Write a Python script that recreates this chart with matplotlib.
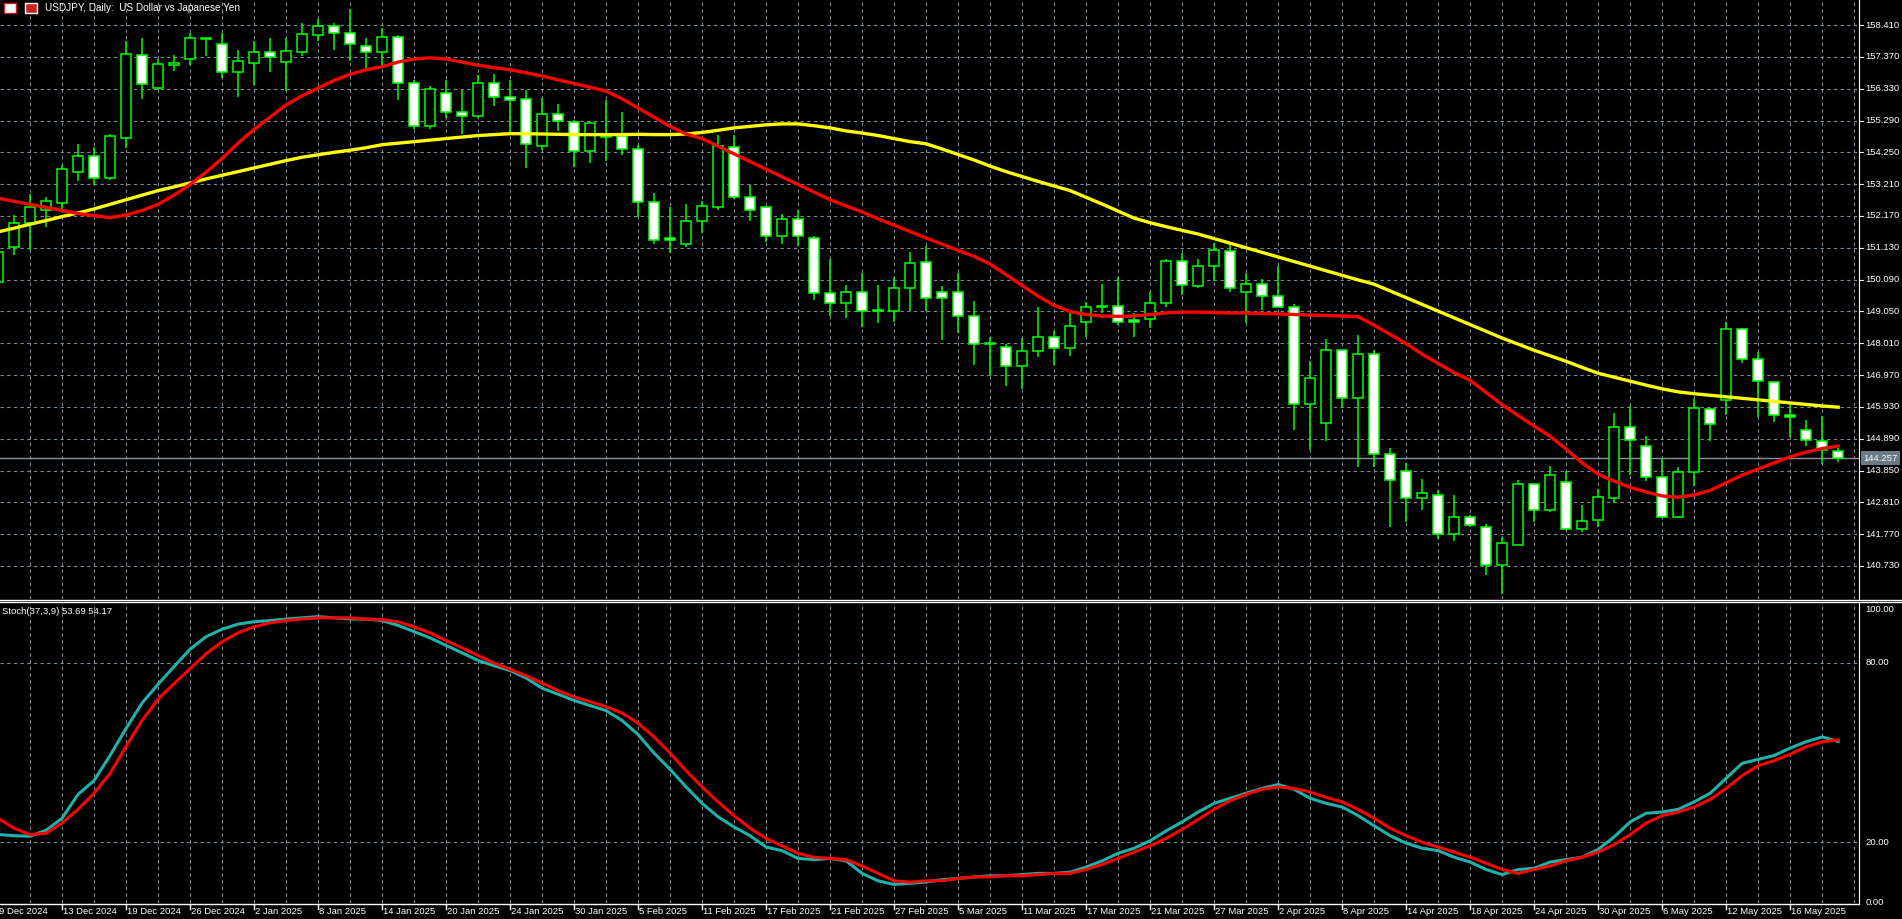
import matplotlib
matplotlib.use("Agg")
import matplotlib.pyplot as plt
import pandas as pd
import numpy as np

plt.rcParams['font.family'] = ['Liberation Sans', 'DejaVu Sans']

# ---- data ----
days = [d for d in pd.bdate_range("2024-12-09", "2025-05-21")
        if d.strftime("%m-%d") not in ("12-25", "01-01")]
date_labels = [f"{d.day} {d.strftime('%b %Y')}" for d in days]

ohlc = [
    (150.0, 151.2, 149.7, 151.0), (151.17, 152.2, 150.9, 151.95), (151.95, 152.9, 151.07, 152.47),
    (152.35, 152.8, 151.8, 152.67), (152.6, 153.85, 152.4, 153.72), (153.62, 154.53, 153.32, 154.14),
    (154.14, 154.43, 153.19, 153.42), (153.42, 154.85, 153.35, 154.79), (154.73, 157.9, 154.4, 157.47),
    (157.43, 157.99, 156.0, 156.49), (156.36, 157.3, 156.3, 157.14), (157.1, 157.43, 156.9, 157.18),
    (157.3, 158.16, 157.1, 158.0), (157.98, 158.0, 157.4, 157.95), (157.79, 158.16, 156.68, 156.88),
    (156.88, 157.6, 156.06, 157.23), (157.17, 157.9, 156.45, 157.53), (157.53, 158.0, 156.88, 157.37),
    (157.2, 158.0, 156.26, 157.56), (157.53, 158.48, 157.4, 158.12), (158.09, 158.6, 157.89, 158.38),
    (158.38, 158.48, 157.6, 158.15), (158.15, 158.94, 157.23, 157.79), (157.73, 158.0, 156.95, 157.53),
    (157.53, 158.3, 157.1, 158.02), (158.02, 158.1, 155.97, 156.52), (156.52, 156.6, 155.0, 155.12),
    (155.12, 156.42, 155.02, 156.33), (156.2, 156.62, 155.38, 155.58), (155.58, 156.29, 154.86, 155.45),
    (155.45, 156.78, 155.38, 156.52), (156.52, 156.81, 155.77, 156.06), (156.06, 156.62, 154.89, 155.97),
    (156.0, 156.29, 153.75, 154.53), (154.47, 156.03, 154.34, 155.51), (155.51, 155.84, 154.96, 155.28),
    (155.25, 155.3, 153.78, 154.3), (154.3, 155.25, 153.91, 155.22), (154.75, 155.97, 153.98, 154.8),
    (154.79, 155.58, 154.17, 154.37), (154.37, 154.5, 152.15, 152.64), (152.64, 152.93, 151.24, 151.37),
    (151.46, 152.47, 150.97, 151.37), (151.27, 152.57, 151.17, 152.02), (152.02, 152.67, 151.63, 152.5),
    (152.47, 154.83, 152.38, 154.47), (154.43, 154.83, 152.73, 152.8), (152.8, 153.19, 152.02, 152.38),
    (152.47, 152.5, 151.33, 151.53), (151.53, 152.25, 151.24, 152.08), (152.08, 152.35, 151.2, 151.5),
    (151.46, 151.5, 149.44, 149.64), (149.64, 150.78, 148.89, 149.34), (149.34, 149.9, 148.85, 149.7),
    (149.7, 150.32, 148.53, 149.05), (149.05, 149.93, 148.66, 149.1), (149.08, 150.16, 148.7, 149.83),
    (149.83, 151.0, 149.08, 150.62), (150.68, 151.2, 149.08, 149.5), (149.7, 149.87, 148.1, 149.5),
    (149.7, 150.32, 148.36, 148.89), (148.89, 149.38, 147.29, 148.0), (147.98, 148.2, 146.93, 148.02),
    (147.9, 148.0, 146.6, 147.26), (147.26, 148.17, 146.5, 147.75), (147.75, 149.2, 147.55, 148.23),
    (148.23, 148.4, 147.3, 147.84), (147.84, 149.05, 147.6, 148.59), (148.72, 149.35, 148.2, 149.2),
    (149.18, 149.96, 149.0, 149.22), (149.24, 150.19, 148.6, 148.69), (148.76, 149.0, 148.2, 148.69),
    (148.79, 149.7, 148.5, 149.34), (149.34, 150.75, 149.2, 150.71), (150.71, 150.97, 149.6, 149.9),
    (149.87, 150.75, 149.8, 150.55), (150.55, 151.3, 150.06, 151.07), (151.04, 151.24, 149.7, 149.83),
    (149.7, 150.32, 148.66, 149.96), (149.96, 150.1, 149.1, 149.57), (149.57, 150.52, 149.18, 149.18),
    (149.18, 149.3, 145.17, 146.02), (146.02, 147.42, 144.51, 146.86), (145.4, 148.14, 144.81, 147.78),
    (147.78, 147.8, 145.9, 146.21), (146.21, 148.27, 143.96, 147.65), (147.65, 147.8, 143.96, 144.38),
    (144.38, 144.58, 142.0, 143.54), (143.83, 144.1, 142.17, 142.95), (142.95, 143.57, 142.56, 143.11),
    (143.05, 143.2, 141.6, 141.77), (141.77, 143.05, 141.55, 142.33), (142.33, 142.4, 142.0, 142.07),
    (142.0, 142.1, 140.44, 140.76), (140.76, 141.68, 139.82, 141.48), (141.42, 143.54, 141.4, 143.4),
    (143.4, 143.45, 142.17, 142.56), (142.56, 143.99, 142.5, 143.7), (143.47, 143.83, 141.9, 141.94),
    (141.94, 142.72, 141.85, 142.2), (142.23, 143.24, 142.0, 142.98), (142.95, 145.72, 142.8, 145.27),
    (145.27, 145.95, 143.7, 144.84), (144.64, 144.97, 143.5, 143.63), (143.63, 144.25, 142.3, 142.33),
    (142.33, 143.95, 142.3, 143.8), (143.8, 146.18, 143.34, 145.89), (145.85, 145.9, 144.81, 145.36),
    (146.15, 148.69, 145.66, 148.46), (148.46, 148.5, 147.35, 147.48), (147.48, 147.71, 145.59, 146.77),
    (146.73, 146.76, 145.43, 145.66), (145.65, 146.02, 144.94, 145.6), (145.17, 145.49, 144.65, 144.84),
    (144.81, 145.62, 144.06, 144.51), (144.48, 144.58, 144.12, 144.257),
]
opens = [r[0] for r in ohlc]
highs = [r[1] for r in ohlc]
lows = [r[2] for r in ohlc]
closes = [r[3] for r in ohlc]

ma_red = [
    152.75, 152.65, 152.55, 152.45, 152.35, 152.25, 152.18, 152.12, 152.2, 152.35,
    152.55, 152.85, 153.2, 153.6, 154.05, 154.55, 155.0, 155.4, 155.8, 156.1,
    156.35, 156.6, 156.8, 156.95, 157.05, 157.2, 157.3, 157.34, 157.3, 157.2,
    157.1, 157.02, 156.95, 156.85, 156.75, 156.62, 156.5, 156.38, 156.25, 156.0,
    155.7, 155.4, 155.1, 154.85, 154.7, 154.45, 154.2, 153.95, 153.7, 153.45,
    153.2, 152.95, 152.7, 152.5, 152.3, 152.08, 151.87, 151.66, 151.45, 151.25,
    151.05, 150.85, 150.6, 150.25, 149.9, 149.55, 149.25, 149.05, 148.95, 148.9,
    148.89, 148.9, 148.95, 149.0, 149.03, 149.03, 149.02, 149.0, 149.0, 148.98,
    148.97, 148.95, 148.93, 148.92, 148.9, 148.88, 148.6, 148.3, 148.0, 147.65,
    147.35, 147.05, 146.8, 146.4, 146.0, 145.65, 145.3, 144.97, 144.55, 144.1,
    143.73, 143.5, 143.3, 143.15, 143.02, 142.98, 143.05, 143.2, 143.45, 143.7,
    143.9, 144.1, 144.3, 144.45, 144.57, 144.65,
]
ma_yellow = [
    151.65, 151.77, 151.9, 152.02, 152.15, 152.27, 152.4, 152.55, 152.7, 152.85,
    153.0, 153.12, 153.25, 153.38, 153.5, 153.62, 153.74, 153.86, 153.98, 154.09,
    154.17, 154.25, 154.32, 154.4, 154.5, 154.55, 154.6, 154.65, 154.7, 154.75,
    154.8, 154.83, 154.86, 154.86, 154.85, 154.84, 154.83, 154.83, 154.83, 154.83,
    154.84, 154.83, 154.83, 154.85, 154.9, 154.97, 155.05, 155.1, 155.15, 155.18,
    155.18, 155.12, 155.05, 154.95, 154.88, 154.8, 154.7, 154.6, 154.53, 154.36,
    154.18, 154.0, 153.8, 153.62, 153.46, 153.3, 153.15, 153.0, 152.78, 152.56,
    152.33, 152.1, 151.95, 151.82, 151.7, 151.58, 151.43, 151.28, 151.13, 150.98,
    150.83, 150.68, 150.53, 150.38, 150.23, 150.08, 149.94, 149.72, 149.5, 149.28,
    149.06, 148.84, 148.62, 148.4, 148.18, 147.98, 147.78, 147.6, 147.42, 147.22,
    147.03, 146.9, 146.77, 146.64, 146.52, 146.42, 146.36, 146.31, 146.26, 146.21,
    146.16, 146.11, 146.06, 146.01, 145.96, 145.92,
]
stoch_main = [
    22.6, 22.2, 22.0, 24.0, 28.0, 36.0, 40.6, 49.0, 58.0, 66.5,
    72.8, 78.7, 84.5, 88.7, 91.2, 92.9, 93.7, 94.1, 94.6, 95.0,
    95.4, 95.0, 94.6, 94.6, 94.1, 92.5, 90.4, 88.3, 85.8, 83.3,
    80.8, 79.0, 77.4, 74.9, 71.5, 69.5, 67.4, 65.7, 64.0, 60.7,
    56.0, 49.8, 44.4, 38.5, 33.0, 28.5, 25.1, 22.2, 18.4, 17.2,
    14.6, 14.2, 14.6, 13.8, 9.6, 7.1, 5.9, 6.3, 6.7, 7.5,
    7.9, 8.4, 8.8, 8.8, 9.2, 9.6, 9.6, 10.0, 11.7, 13.8,
    16.3, 18.0, 20.5, 23.8, 26.8, 30.1, 33.0, 34.7, 36.4, 38.0,
    39.3, 37.7, 34.7, 33.0, 31.8, 28.9, 25.5, 22.2, 19.7, 18.0,
    17.2, 15.0, 13.4, 10.9, 9.2, 10.9, 11.3, 13.4, 14.2, 15.0,
    17.6, 21.8, 26.8, 29.7, 30.1, 31.0, 33.5, 36.4, 41.4, 46.4,
    47.7, 49.0, 51.5, 53.6, 55.2, 53.69,
]
stoch_signal = [
    28.0, 24.7, 22.6, 23.0, 26.4, 31.0, 36.4, 43.0, 52.0, 60.7,
    67.8, 73.0, 78.0, 83.0, 87.0, 90.0, 92.0, 93.3, 94.1, 94.6,
    95.0, 95.0, 95.0, 94.6, 94.4, 93.7, 92.0, 90.0, 87.4, 85.0,
    82.4, 79.9, 77.8, 75.7, 73.2, 70.7, 68.6, 67.0, 65.3, 63.2,
    59.8, 55.2, 49.8, 43.9, 38.5, 33.5, 28.9, 24.7, 21.3, 18.8,
    16.3, 15.0, 14.6, 14.2, 12.1, 9.6, 7.1, 6.7, 7.1, 7.1,
    7.9, 8.4, 8.4, 8.8, 8.8, 9.2, 9.6, 9.6, 10.9, 12.6,
    14.6, 16.7, 18.8, 21.3, 24.3, 27.6, 31.0, 33.9, 36.0, 37.7,
    38.5, 38.0, 36.8, 35.0, 33.5, 31.0, 28.0, 24.7, 22.2, 20.0,
    18.4, 16.7, 15.0, 13.0, 10.9, 9.6, 10.9, 12.1, 13.8, 15.0,
    16.7, 19.2, 22.6, 26.4, 28.9, 30.1, 31.8, 34.3, 38.0, 42.3,
    45.6, 47.3, 49.4, 51.9, 53.6, 54.17,
]
price_ticks = [140.73, 141.77, 142.81, 143.85, 144.89, 145.93, 146.97, 148.01,
               149.05, 150.09, 151.13, 152.17, 153.21, 154.25, 155.29, 156.33,
               157.37, 158.41]
stoch_ticks = [0, 20, 80, 100]
last_price = 144.257

# ---- figure ----
W, H = 1902, 919
fig = plt.figure(figsize=(W / 100, H / 100), dpi=100, facecolor="black")

def px_axes(x0, y0, x1, y1):
    return fig.add_axes([x0 / W, 1 - y1 / H, (x1 - x0) / W, (y1 - y0) / H])

ax = px_axes(0, 0, 1859, 599)
ax2 = px_axes(0, 602, 1859, 903)
grid_col = "#7d8a98"
n = len(closes)
xs = np.arange(n)
for a in (ax, ax2):
    a.set_facecolor("black")
    a.set_xlim(0.125, 116.3)
    for s in a.spines.values():
        s.set_visible(False)
    a.tick_params(left=False, bottom=False, labelleft=False, labelbottom=False)
    for gx in range(0, n + 2, 2):
        a.axvline(gx, color=grid_col, lw=0.8, ls=(0, (3, 3)), zorder=0)
    a.spines["right"].set_visible(True)
    a.spines["right"].set_color("white")

ymin, ymax = 139.65, 159.23
ax.set_ylim(ymin, ymax)
ax2.set_ylim(-0.3, 100.3)
for p in price_ticks:
    ax.axhline(p, color=grid_col, lw=0.8, ls=(0, (3, 3)), zorder=0)
for s in (20, 80):
    ax2.axhline(s, color=grid_col, lw=0.8, ls=(0, (3, 3)), zorder=0)

# candles
o = np.array(opens); c = np.array(closes)
bull = c >= o
bottom = np.minimum(o, c)
height = np.maximum(np.abs(c - o), 0.03)
ax.vlines(xs, lows, highs, color="#00ff00", lw=1.1, zorder=2)
ax.bar(xs, height, bottom=bottom, width=0.62,
       color=np.where(bull, "black", "white"), edgecolor="#00ff00", lw=1.1, zorder=3)

ax.plot(xs, ma_yellow, color="#ffff00", lw=2.4, zorder=4)
ax.plot(xs, ma_red, color="#ff0000", lw=2.4, zorder=4)
ax.axhline(last_price, color="#8a939c", lw=1, zorder=1)

ax2.plot(xs, stoch_main, color="#20b2aa", lw=2.2)
ax2.plot(xs, stoch_signal, color="#ff0000", lw=2.2)

# right axis labels
fs = 6.8
for p in price_ticks:
    yf = (p - ymin) / (ymax - ymin)
    ax.text(1.0035, yf, f"{p:.3f}", transform=ax.transAxes,
            color="white", fontsize=fs, va="center", ha="left")
    ax.plot([1.0, 1.002], [yf, yf], transform=ax.transAxes,
            color="white", lw=0.8, clip_on=False)
ax.text(1.0025, (last_price - ymin) / (ymax - ymin), f"{last_price:.3f}", transform=ax.transAxes,
        color="white", fontsize=fs, va="center", ha="left",
        bbox=dict(boxstyle="square,pad=0.25", fc="#6b7886", ec="none"))
for s in stoch_ticks:
    yf = min((s + 0.3) / 100.6, 0.975)
    ax2.text(1.0035, yf, f"{s:.2f}", transform=ax2.transAxes,
             color="white", fontsize=fs, va="center", ha="left")

# separator and bottom line
fig.add_artist(plt.Line2D([0, 1], [1 - 599.5 / H] * 2, color="white", lw=1))
fig.add_artist(plt.Line2D([0, 1], [1 - 601.5 / H] * 2, color="white", lw=1))
fig.add_artist(plt.Line2D([0, 1859 / W], [1 - 903.5 / H] * 2, color="white", lw=1))

# date labels
for i in range(0, n, 4):
    xp = (-2 + 16 * i) / W
    fig.add_artist(plt.Line2D([xp, xp], [1 - 903.5 / H, 1 - 909 / H], color="white", lw=1))
    fig.text(xp + 1 / W, 1 - 912 / H, date_labels[i], color="white", fontsize=fs,
             ha="left", va="center")

# titles
fig.text(45 / W, 1 - 8 / H, "USDJPY, Daily:  US Dollar vs Japanese Yen", color="white",
         fontsize=7.2, va="center")
fig.add_artist(plt.Rectangle((4 / W, 1 - 13 / H), 12 / W, 10 / H, fc="white", ec="#cc2222", lw=1))
fig.add_artist(plt.Rectangle((25 / W, 1 - 13 / H), 12 / W, 10 / H, fc="#cc2222", ec="white", lw=1))
fig.text(2 / W, 1 - 612 / H, "Stoch(37,3,9) 53.69 54.17", color="white", fontsize=fs,
         va="center")

fig.savefig("out.png", dpi=100, facecolor="black")
